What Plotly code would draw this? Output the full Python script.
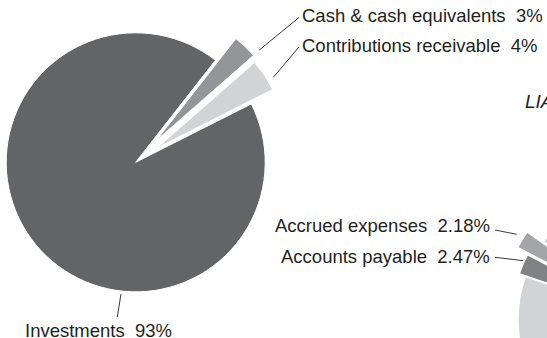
import plotly.graph_objects as go

# ---- data ----
asset_labels = ["Cash & cash equivalents", "Contributions receivable", "Investments"]
asset_values = [3, 4, 93]

liab_labels = ["Accounts payable", "Accrued expenses", "Net assets"]
liab_values = [2.47, 2.18, 95.35]
liab_title = "LIABILITIES & NET ASSETS"

# ---- styles ----
asset_colors = ["#939598", "#d1d3d4", "#636466"]
asset_pull = [0.23, 0.20, 0]
liab_colors = ["#808285", "#a3a5a8", "#d1d3d4"]
liab_pull = [0.05, 0.14, 0]
TEXT = "#231f20"
FONT = "Liberation Sans, Arial, sans-serif"
FS = 18.5

SHIFT = 40
W, H = 850, 480


def px(x):
    return (x + SHIFT) / W


def py(y):
    return 1 - y / H


def domain(cx, cy, r, pull):
    half = r * (1 + pull)
    return dict(x=[px(cx - half), px(cx + half)], y=[py(cy + half), py(cy - half)])


def fmt(label, v):
    return f"{label}\u00a0\u00a0{v:g}%"


fig = go.Figure()
fig.add_trace(go.Pie(
    labels=asset_labels, values=asset_values, sort=False, direction="clockwise",
    rotation=38, pull=asset_pull, textinfo="none", hoverinfo="label+percent",
    marker=dict(colors=asset_colors, line=dict(color="white", width=1)),
    domain=domain(135.7, 162.3, 129.5, max(asset_pull)),
))
fig.add_trace(go.Pie(
    labels=liab_labels, values=liab_values, sort=False, direction="clockwise",
    rotation=-71, pull=liab_pull, textinfo="none", hoverinfo="label+percent",
    marker=dict(colors=liab_colors, line=dict(color="white", width=1.5)),
    domain=domain(652, 320, 134, max(liab_pull)),
))

# label placement (screen px): x, text-centre y, anchor
label_pos = {
    asset_labels[0]: (299.5, 15.6, "left"),
    asset_labels[1]: (299.5, 45.3, "left"),
    asset_labels[2]: (23, 330.9, "left"),
    liab_labels[1]: (492, 225.3, "right"),
    liab_labels[0]: (492, 256.9, "right"),
}
values = dict(zip(asset_labels + liab_labels, asset_values + liab_values))
annotations = []
for lab, (x, y, anc) in label_pos.items():
    annotations.append(dict(
        x=px(x), y=py(y), xref="paper", yref="paper", xanchor=anc, yanchor="middle",
        text=fmt(lab, values[lab]), showarrow=False,
        font=dict(family=FONT, size=FS, color=TEXT),
    ))
annotations.append(dict(
    x=px(523), y=py(101.7), xref="paper", yref="paper", xanchor="left", yanchor="middle",
    text=f"<i>{liab_title}</i>", showarrow=False,
    font=dict(family=FONT, size=19, color=TEXT),
))

leaders = [
    ((299, 17.5), (259.3, 50)),
    ((299, 47), (273.3, 77.3)),
    ((121, 294), (117.3, 317)),
    ((495, 230), (516.7, 234.3)),
    ((495, 257.3), (523.3, 260.7)),
]
shapes = [
    dict(type="line", xref="paper", yref="paper", x0=px(a[0]), y0=py(a[1]),
         x1=px(b[0]), y1=py(b[1]), line=dict(color="#3a3a3c", width=1))
    for a, b in leaders
]

fig.update_layout(
    width=W, height=H, margin=dict(l=0, r=0, t=0, b=0, pad=0),
    paper_bgcolor="white", plot_bgcolor="white", showlegend=False,
    annotations=annotations, shapes=shapes,
)

post = (
    "var gd=document.getElementById('{plot_id}');"
    "gd.style.position='relative';gd.style.left='-" + str(SHIFT) + "px';"
    "document.body.style.margin='0';document.body.style.overflow='hidden';"
    "document.documentElement.style.overflow='hidden';"
)
fig.write_html("out.html", config={"displayModeBar": False}, post_script=post)
